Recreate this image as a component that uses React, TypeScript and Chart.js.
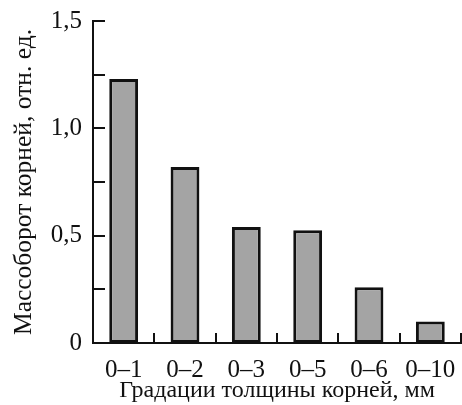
import React, { useEffect, useRef } from "react";
import { Chart, registerables } from "chart.js";

Chart.register(...registerables);

const categories = ["0–1", "0–2", "0–3", "0–5", "0–6", "0–10"];
const values = [1.23, 0.82, 0.54, 0.525, 0.26, 0.1];
const yTickValues = [0, 0.5, 1.0, 1.5];
const yTickLabels = ["0", "0,5", "1,0", "1,5"];
const yMinorTicks = [0.25, 0.5, 0.75, 1.0, 1.25, 1.5];
const yTitle = "Массоборот корней, отн. ед.";
const xTitle = "Градации толщины корней, мм";

const FONT = "'Liberation Serif', 'Times New Roman', serif";

const inwardTicks = {
  id: "inwardTicks",
  afterDatasetsDraw(chart: any) {
    const { ctx, chartArea, scales } = chart;
    const x = scales.x;
    const y = scales.y;
    ctx.save();
    ctx.strokeStyle = "#111";
    ctx.lineWidth = 2;
    ctx.beginPath();
    for (const v of yMinorTicks) {
      const py = Math.round(y.getPixelForValue(v));
      ctx.moveTo(chartArea.left, py);
      ctx.lineTo(chartArea.left + 12, py);
    }
    const n = categories.length;
    const step = (chartArea.right - chartArea.left) / n;
    for (let i = 0; i < n; i++) {
      const px = Math.round(x.getPixelForValue(i) + step / 2);
      ctx.moveTo(px, chartArea.bottom);
      ctx.lineTo(px, chartArea.bottom - 10);
    }
    ctx.stroke();
    ctx.restore();
  },
};

export default function App() {
  const ref = useRef<HTMLCanvasElement>(null);
  useEffect(() => {
    if (!ref.current) return;
    const chart = new Chart(ref.current, {
      type: "bar",
      data: {
        labels: categories,
        datasets: [
          {
            data: values,
            backgroundColor: "#a4a4a4",
            borderColor: "#111",
            borderWidth: 3,
            borderSkipped: false,
            categoryPercentage: 1,
            barPercentage: 0.47,
          },
        ],
      },
      options: {
        responsive: false,
        animation: false,
        layout: { padding: { top: 21, right: 1, left: 0, bottom: 0 } },
        plugins: { legend: { display: false }, tooltip: { enabled: false } },
        scales: {
          x: {
            grid: { display: false, drawTicks: false },
            border: { display: true, color: "#111", width: 2 },
            ticks: {
              color: "#111",
              font: { family: FONT, size: 25 },
              padding: 12,
              maxRotation: 0,
            },
            title: {
              display: true,
              text: xTitle,
              color: "#111",
              font: { family: FONT, size: 24 },
              padding: { top: 0, bottom: 0 },
            },
            afterFit: (s: any) => {
              s.height = 62;
              s.paddingLeft = 0;
              s.paddingRight = 0;
            },
          },
          y: {
            min: 0,
            max: 1.5,
            afterBuildTicks: (s: any) => {
              s.ticks = yTickValues.map((v) => ({ value: v }));
            },
            grid: { display: false, drawTicks: false },
            border: { display: true, color: "#111", width: 2 },
            ticks: {
              color: "#111",
              font: { family: FONT, size: 25 },
              padding: 11,
              callback: (v: any) => {
                const i = yTickValues.indexOf(Number(v));
                return i >= 0 ? yTickLabels[i] : "";
              },
            },
            title: {
              display: true,
              text: yTitle,
              color: "#111",
              font: { family: FONT, size: 25.5 },
              padding: { top: 9, bottom: 0 },
            },
            afterFit: (s: any) => {
              s.width = 93;
              s.paddingTop = 0;
              s.paddingBottom = 0;
            },
          },
        },
      },
      plugins: [inwardTicks],
    });
    return () => chart.destroy();
  }, []);
  return (
    <div style={{ position: "fixed", left: 0, top: 0, width: 462, height: 405, background: "#fff" }}>
      <canvas ref={ref} width={462} height={405} />
    </div>
  );
}
